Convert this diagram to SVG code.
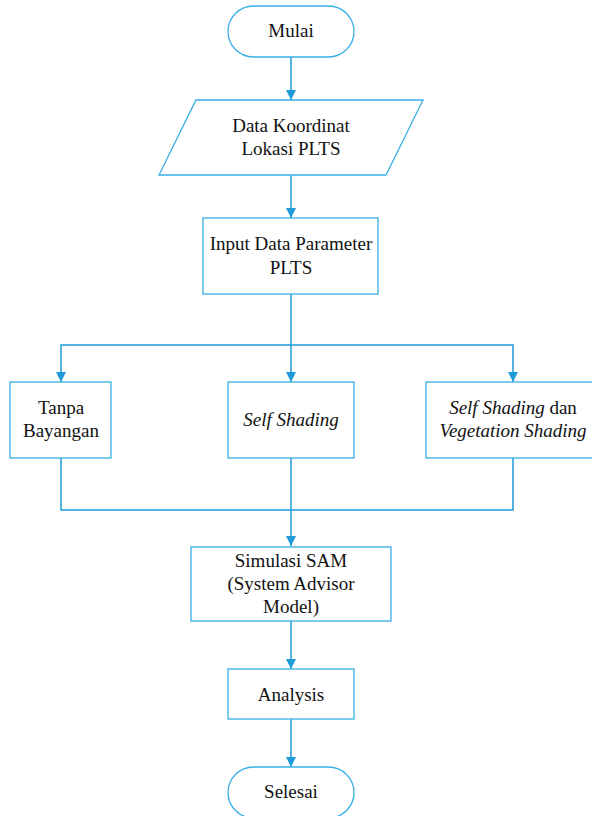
<svg xmlns="http://www.w3.org/2000/svg" width="592" height="816" viewBox="0 0 592 816">
<style>
.n{fill:#fff;stroke:#3aaee6;stroke-width:1.3}
.c{fill:none;stroke:#1e9ad8;stroke-width:1.5}
text{font-family:"Liberation Serif","Times New Roman",serif;font-size:19px;fill:#111;text-anchor:middle}
.i{font-style:italic}
</style>
<defs>
<marker id="a" viewBox="0 0 10 10" refX="10" refY="5" markerWidth="10" markerHeight="10" markerUnits="userSpaceOnUse" orient="auto">
<path d="M0,0 L10,5 L0,10 Z" fill="#1e9ad8"/>
</marker>
</defs>
<rect width="592" height="816" fill="#fff"/>
<g id="connectors">
<path class="c" d="M291,57 V100" marker-end="url(#a)"/>
<path class="c" d="M291,175 V218" marker-end="url(#a)"/>
<path class="c" d="M291,294 V345 H61 V382" marker-end="url(#a)"/>
<path class="c" d="M291,345 V382" marker-end="url(#a)"/>
<path class="c" d="M291,345 H513 V382" marker-end="url(#a)"/>
<path class="c" d="M61,458 V510 H513 V458"/>
<path class="c" d="M291,458 V546" marker-end="url(#a)"/>
<path class="c" d="M291,621 V669" marker-end="url(#a)"/>
<path class="c" d="M291,719 V767" marker-end="url(#a)"/>
</g>
<g id="mulai">
<rect class="n" x="228" y="6" width="126" height="51" rx="25.5"/>
<text x="291" y="37">Mulai</text>
</g>
<g id="data">
<polygon class="n" points="196,100 423,100 386,175 159,175"/>
<text x="291" y="132">Data Koordinat</text>
<text x="291" y="155">Lokasi PLTS</text>
</g>
<g id="input">
<rect class="n" x="203" y="218" width="175" height="76"/>
<text x="291" y="250">Input Data Parameter</text>
<text x="291" y="274">PLTS</text>
</g>
<g id="tanpa">
<rect class="n" x="10" y="382" width="101" height="76"/>
<text x="61" y="414">Tanpa</text>
<text x="61" y="437">Bayangan</text>
</g>
<g id="self">
<rect class="n" x="228" y="382" width="126" height="76"/>
<text x="291" y="426" class="i">Self Shading</text>
</g>
<g id="selfveg">
<rect class="n" x="426" y="382" width="176" height="76"/>
<text x="513" y="414"><tspan class="i">Self Shading</tspan> dan</text>
<text x="513" y="437" class="i">Vegetation Shading</text>
</g>
<g id="simulasi">
<rect class="n" x="191" y="547" width="200" height="74"/>
<text x="291" y="567">Simulasi SAM</text>
<text x="291" y="590">(System Advisor</text>
<text x="291" y="613">Model)</text>
</g>
<g id="analysis">
<rect class="n" x="228" y="669" width="126" height="50"/>
<text x="291" y="701">Analysis</text>
</g>
<g id="selesai">
<rect class="n" x="228" y="767" width="126" height="51" rx="25.5"/>
<text x="291" y="798">Selesai</text>
</g>
</svg>
